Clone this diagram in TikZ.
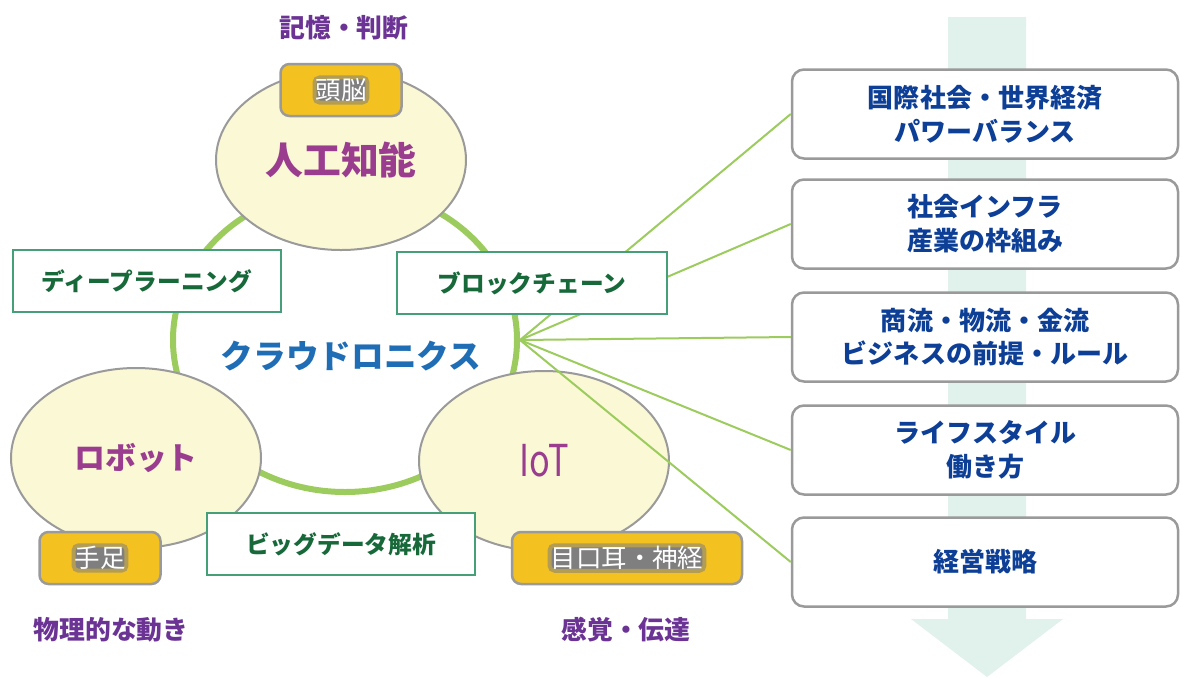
\documentclass[tikz,border=0pt]{standalone}
\usepackage{fontspec}
\setmainfont{Noto Sans CJK JP}
\usepackage{graphicx}
\usetikzlibrary{shapes.geometric}
\newlength\pxu
\setlength\pxu{0.02cm}
\tikzset{
  blob/.style={ellipse, draw=rimgray, line width=2\pxu, fill=blobfill, inner sep=0pt,
    minimum width=250\pxu, minimum height=180\pxu, text=topic},
  skill/.style={draw=skillrim, line width=2.5\pxu, fill=white, text=skilltext,
    minimum width=268\pxu, minimum height=62\pxu, inner sep=0pt,
    font=\bfseries\fontsize{13.5pt}{15pt}\selectfont},
  tag/.style={draw=rimgray, line width=2.5\pxu, fill=tagfill, rounded corners=9\pxu,
    minimum height=52\pxu, inner sep=0pt},
  glow/.style={fill=glowgray, draw=glowgray!55!tagfill, line width=4\pxu, rounded corners=5\pxu,
    inner sep=1\pxu, text=white, font=\fontsize{14.5pt}{16pt}\selectfont},
  memo/.style={text=memopurple, font=\bfseries\fontsize{14.7pt}{17pt}\selectfont},
  effect/.style={draw=rimgray, line width=2.5\pxu, fill=white, rounded corners=12\pxu,
    minimum width=386\pxu, minimum height=89\pxu, align=center, text=effecttext,
    font=\bfseries\fontsize{14.8pt}{19.3pt}\selectfont},
  link/.style={draw=ringgreen, line width=2\pxu}
}
\begin{document}
\begin{tikzpicture}[x=0.02cm, y=-0.02cm]
\definecolor{blobfill}{HTML}{FBF8D6}
\definecolor{rimgray}{HTML}{9A9A9A}
\definecolor{topic}{HTML}{9A3D8F}
\definecolor{memopurple}{HTML}{6B3393}
\definecolor{cloudblue}{HTML}{1E6DB5}
\definecolor{skilltext}{HTML}{17693A}
\definecolor{skillrim}{HTML}{45A07A}
\definecolor{ringgreen}{HTML}{9CCB5E}
\definecolor{tagfill}{HTML}{F3C220}
\definecolor{glowgray}{HTML}{7F7F7F}
\definecolor{effecttext}{HTML}{0D3F96}
\definecolor{flow}{HTML}{E1F1EB}
\useasboundingbox (0,0) rectangle (1180,677);

% big arrow behind the right column
\fill[flow] (948,17) -- (1026,17) -- (1026,619) -- (1063,619) -- (987,677) -- (911,619) -- (948,619) -- cycle;

% cloud ring and the three fields
\node[ellipse, draw=ringgreen, line width=6\pxu, minimum width=344\pxu, minimum height=304\pxu, inner sep=0pt] (cloud) at (345,340) {};
\node[blob, font=\bfseries\fontsize{21.5pt}{24pt}\selectfont] (ai) at (341,160) {人工知能};
\node[blob, font=\bfseries\fontsize{17.6pt}{20pt}\selectfont] (robot) at (136,458) {ロボット};
\node[blob, font=\fontsize{25pt}{28pt}\selectfont] (iot) at (544,461) {\raisebox{-4\pxu}{\scalebox{0.78}[1]{IoT}}};
\node[text=cloudblue, font=\bfseries\fontsize{18.6pt}{21pt}\selectfont] (cloudname) at (351,356) {クラウドロニクス};

% effects on the right
\node[effect] (e1) at (985,114) {国際社会・世界経済\\パワーバランス};
\node[effect] (e2) at (985,224) {社会インフラ\\産業の枠組み};
\node[effect] (e3) at (985,337) {商流・物流・金流\\ビジネスの前提・ルール};
\node[effect] (e4) at (985,450) {ライフスタイル\\働き方};
\node[effect] (e5) at (985,562) {経営戦略};
\foreach \e in {e1,e2,e3,e4,e5}
  \draw[link] (cloud.east) -- (\e.west);

% technologies
\node[skill] (deep) at (147,281) {ディープラーニング};
\node[skill, minimum width=270\pxu] (chain) at (532,283) {ブロックチェーン};
\node[skill] (bigdata) at (341,544) {ビッグデータ解析};

% body parts
\node[tag, minimum width=121\pxu] (brain) at (341,90) {};
\node[glow] at (brain) {頭脳};
\node[tag, minimum width=121\pxu] (limbs) at (100,558) {};
\node[glow] at (limbs) {手足};
\node[tag, minimum width=230\pxu] (senses) at (627,558) {};
\node[glow] at (senses) {目口耳・神経};

\node[memo] (judge) at (344,28) {記憶・判断};
\node[memo] (motion) at (111,630) {物理的な動き};
\node[memo] (sense) at (626,630) {感覚・伝達};
\end{tikzpicture}
\end{document}
